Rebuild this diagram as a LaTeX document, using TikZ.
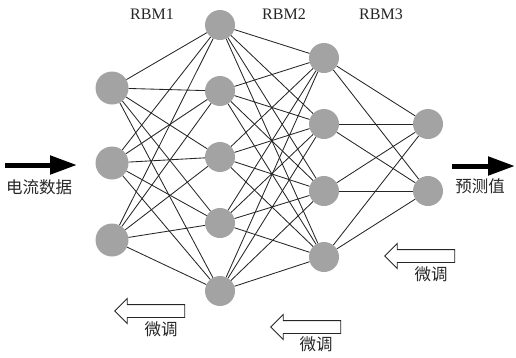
\documentclass[tikz,border=0pt]{standalone}
\usepackage{fontspec}
\setmainfont{Liberation Serif}
\newfontfamily\cjk{Noto Sans CJK SC}
\usetikzlibrary{arrows.meta,shapes.arrows}
\definecolor{ngray}{HTML}{A3A3A3}
\definecolor{ink}{HTML}{262626}

\begin{document}
\begin{tikzpicture}[x=1pt, y=-1pt,
  unit/.style={circle, fill=ngray, inner sep=0pt, minimum size=30pt},
  link/.style={line width=0.85pt, ink},
  flow/.style={line width=5pt, -{Triangle[length=27pt,width=18pt]}},
  tune/.style={single arrow, draw=ink, line width=0.9pt, fill=white, shape border rotate=180,
    minimum height=70pt, inner sep=6pt, single arrow head extend=6pt, single arrow head indent=0pt},
  cn/.style={font=\cjk\fontsize{16.5}{16.5}\selectfont, text=ink},
  rbm/.style={font=\fontsize{16}{16}\selectfont, text=ink},
]
  \useasboundingbox (0,0) rectangle (516,357);

  % layers
  \node[unit, minimum size=33pt] (a1) at (112,88) {};
  \node[unit, minimum size=33pt] (a2) at (112,163) {};
  \node[unit, minimum size=33pt] (a3) at (112,240) {};

  \node[unit] (b1) at (220,25) {};
  \node[unit] (b2) at (220,91) {};
  \node[unit] (b3) at (220,157) {};
  \node[unit] (b4) at (220,223) {};
  \node[unit] (b5) at (220,291) {};

  \node[unit] (c1) at (324,58) {};
  \node[unit] (c2) at (324,124) {};
  \node[unit] (c3) at (324,191) {};
  \node[unit] (c4) at (324,257) {};

  \node[unit] (d1) at (428,124) {};
  \node[unit] (d2) at (428,191) {};

  % full connections
  \foreach \i in {1,...,3}
    \foreach \j in {1,...,5}
      \draw[link] (a\i) -- (b\j);
  \foreach \i in {1,...,5}
    \foreach \j in {1,...,4}
      \draw[link] (b\i) -- (c\j);
  \foreach \i in {1,...,4}
    \foreach \j in {1,2}
      \draw[link] (c\i) -- (d\j);

  \node[rbm] (rbm1) at (152,14) {RBM1};
  \node[rbm] (rbm2) at (284,14) {RBM2};
  \node[rbm] (rbm3) at (381,14) {RBM3};

  % input and output
  \coordinate (inS) at (5,165);
  \coordinate (inE) at (77,165);
  \draw[flow] (inS) -- (inE);
  \node[cn] (data) at (39,187) {电流数据};

  \coordinate (outS) at (452,166);
  \coordinate (outE) at (515,166);
  \draw[flow] (outS) -- (outE);
  \node[cn] (pred) at (480,186) {预测值};

  % fine tuning
  \node[tune] (ft1) at (153,311) {};
  \node[cn] (ft1l) at (161,329) {微调};
  \node[tune] (ft2) at (309,327) {};
  \node[cn] (ft2l) at (316,344) {微调};
  \node[tune] (ft3) at (423,256) {};
  \node[cn] (ft3l) at (431,274) {微调};
\end{tikzpicture}
\end{document}
